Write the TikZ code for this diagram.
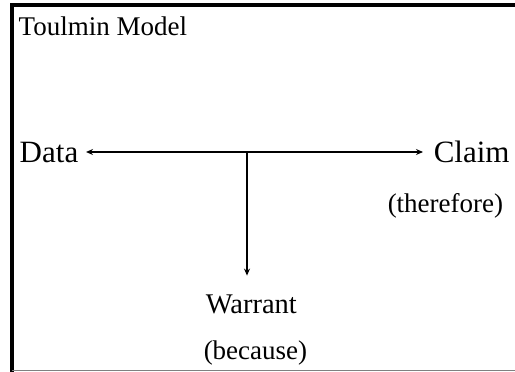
\documentclass[tikz,border=0pt]{standalone}
\usepackage{fontspec}
\setmainfont{Liberation Serif}
\usetikzlibrary{arrows.meta,positioning}

\begin{document}
\begin{tikzpicture}[x=1pt, y=-1pt, line width=1.5pt,
  >={Stealth[length=7pt,width=6pt]},
  word/.style={font=\fontsize{27}{32}\selectfont, inner sep=0pt, anchor=base west},
  bigword/.style={word, font=\fontsize{31}{36}\selectfont}]
  \useasboundingbox (0,0) rectangle (515,372);
  % frame
  \draw[line width=4pt] (12,372) -- (12,5) -- (515,5);
  \draw[gray, line width=1pt] (12,370) -- (515,370);
  \node (title) [word] at (18,35) {Toulmin Model};
  \node (data) [bigword] at (19,162) {Data};
  \node (claim) [bigword] at (433,162) {Claim};
  \node (therefore) [word] at (387,212) {(therefore)};
  \node (warrant) [word, font=\fontsize{28.5}{34}\selectfont] at (205,313) {Warrant};
  \node (because) [word] at (203,359) {(because)};
  \coordinate (fork) at (247,152);
  \draw[<->, shorten <=7pt, shorten >=10pt] (data.east |- fork) -- (claim.west |- fork);
  \draw[->, shorten >=18pt] (fork) -- (fork |- warrant.north);
\end{tikzpicture}
\end{document}
